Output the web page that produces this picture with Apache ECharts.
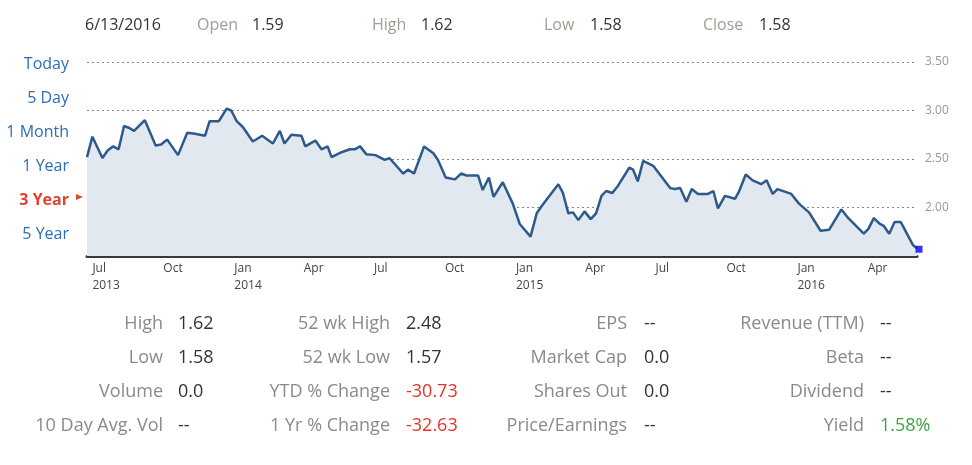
<!DOCTYPE html>
<html>
<head>
<meta charset="utf-8">
<title>3 Year</title>
<script src="https://cdn.jsdelivr.net/npm/echarts@6.0.0/dist/echarts.min.js"></script>
<style>
  html, body { margin: 0; padding: 0; background: #fff; }
  #main { width: 972px; height: 465px; }
</style>
</head>
<body>
<div id="main"></div>
<script>
// 数据
const dates = ['2013-06-24','2013-07-01','2013-07-14','2013-07-21','2013-07-28','2013-08-04','2013-08-11','2013-08-18','2013-08-24','2013-09-07',
  '2013-09-21','2013-09-28','2013-10-06','2013-10-20','2013-11-01','2013-11-11','2013-11-24','2013-11-30','2013-12-12','2013-12-22',
  '2013-12-28','2014-01-04','2014-01-12','2014-01-25','2014-02-06','2014-02-20','2014-03-01','2014-03-07','2014-03-16','2014-03-29',
  '2014-04-03','2014-04-16','2014-04-24','2014-05-02','2014-05-07','2014-05-20','2014-05-31','2014-06-06','2014-06-13','2014-06-21',
  '2014-07-03','2014-07-15','2014-07-21','2014-08-08','2014-08-14','2014-08-22','2014-09-04','2014-09-16','2014-09-22','2014-10-02',
  '2014-10-14','2014-10-22','2014-10-29','2014-11-13','2014-11-19','2014-11-27','2014-12-03','2014-12-15','2014-12-28','2015-01-06',
  '2015-01-20','2015-01-28','2015-02-03','2015-02-25','2015-03-03','2015-03-10','2015-03-16','2015-03-23','2015-03-31','2015-04-08',
  '2015-04-15','2015-04-22','2015-04-28','2015-05-06','2015-05-13','2015-05-28','2015-06-02','2015-06-08','2015-06-15','2015-06-28',
  '2015-07-20','2015-07-26','2015-08-02','2015-08-10','2015-08-17','2015-08-25','2015-09-07','2015-09-14','2015-09-20','2015-09-29',
  '2015-10-12','2015-10-17','2015-10-26','2015-11-04','2015-11-15','2015-11-22','2015-11-30','2015-12-06','2015-12-24','2016-01-03',
  '2016-01-16','2016-01-31','2016-02-11','2016-02-27','2016-03-07','2016-03-17','2016-03-27','2016-04-02','2016-04-09','2016-04-17',
  '2016-04-22','2016-04-29','2016-05-06','2016-05-14','2016-05-30','2016-06-04']
const prices = [2.52,2.73,2.51,2.59,2.63,2.60,2.84,2.82,2.79,2.90,
  2.64,2.65,2.70,2.54,2.77,2.76,2.74,2.89,2.89,3.02,
  3.00,2.89,2.83,2.68,2.74,2.66,2.79,2.66,2.75,2.74,
  2.63,2.69,2.60,2.63,2.52,2.57,2.60,2.60,2.63,2.55,
  2.54,2.49,2.51,2.35,2.39,2.35,2.63,2.56,2.49,2.31,
  2.29,2.35,2.33,2.33,2.18,2.31,2.11,2.26,2.04,1.83,
  1.70,1.94,2.01,2.24,2.15,1.94,1.95,1.87,1.96,1.88,
  1.94,2.12,2.17,2.15,2.22,2.41,2.39,2.27,2.48,2.43,
  2.20,2.19,2.20,2.06,2.19,2.14,2.14,2.17,1.99,2.12,
  2.09,2.16,2.34,2.28,2.24,2.28,2.14,2.19,2.14,2.04,
  1.95,1.76,1.77,1.98,1.89,1.81,1.73,1.78,1.89,1.83,
  1.81,1.73,1.85,1.85,1.61,1.58]

const xMin = '2013-06-24'
const xMax = '2016-06-04'
const tickDates = ['2013-07-01','2013-10-01','2014-01-01','2014-04-01','2014-07-01','2014-10-01',
  '2015-01-01','2015-04-01','2015-07-01','2015-10-01','2016-01-01','2016-04-01']
const monthNames = ['Jan','Feb','Mar','Apr','May','Jun','Jul','Aug','Sep','Oct','Nov','Dec']

// 顶部报价
const quoteDate = '6/13/2016'
const quoteLabels = ['Open', 'High', 'Low', 'Close']
const quoteValues = ['1.59', '1.62', '1.58', '1.58']

// 左侧时间范围
const ranges = ['Today', '5 Day', '1 Month', '1 Year', '3 Year', '5 Year']
const activeRange = '3 Year'

// 底部统计
const statLabels = [
  ['High', 'Low', 'Volume', '10 Day Avg. Vol'],
  ['52 wk High', '52 wk Low', 'YTD % Change', '1 Yr % Change'],
  ['EPS', 'Market Cap', 'Shares Out', 'Price/Earnings'],
  ['Revenue (TTM)', 'Beta', 'Dividend', 'Yield']
]
const statValues = [
  ['1.62', '1.58', '0.0', '--'],
  ['2.48', '1.57', '-30.73', '-32.63'],
  ['--', '0.0', '0.0', '--'],
  ['--', '--', '--', '1.58%']
]

const FONT = '"Open Sans", sans-serif'

function toTime(s) {
  const p = s.split('-').map(Number)
  return Date.UTC(p[0], p[1] - 1, p[2])
}

const tickTimes = tickDates.map(toTime)
const seriesData = dates.map((d, i) => [toTime(d), prices[i]])
const last = seriesData[seriesData.length - 1]

// graphic 文本
const graphics = []
graphics.push({ type: 'text', style: { text: quoteDate, x: 85, y: 25, fill: '#333', font: '16px ' + FONT, textVerticalAlign: 'middle' } })
const quoteLabelX = [197, 372, 544, 703]
const quoteValueX = [252, 421, 590, 759]
quoteLabels.forEach((t, i) => {
  graphics.push({ type: 'text', style: { text: t, x: quoteLabelX[i], y: 25, fill: '#a29c93', font: '16px ' + FONT, textVerticalAlign: 'middle' } })
  graphics.push({ type: 'text', style: { text: quoteValues[i], x: quoteValueX[i], y: 25, fill: '#333', font: '16px ' + FONT, textVerticalAlign: 'middle' } })
})

ranges.forEach((t, i) => {
  const on = t === activeRange
  graphics.push({ type: 'text', style: {
    text: t, x: 69, y: 64 + i * 34, textAlign: 'right', textVerticalAlign: 'middle',
    fill: on ? '#e2432f' : '#2d6fb4', font: (on ? 'bold ' : '') + '16px ' + FONT
  } })
  if (on) {
    const cy = 64 + i * 34 - 3
    graphics.push({ type: 'polygon', shape: { points: [[76, cy - 3], [83, cy], [76, cy + 3]] }, style: { fill: '#e2432f' } })
  }
})

const colLabelRight = [163, 390, 627, 864]
const colValueLeft = [178, 406, 644, 880]
statLabels.forEach((col, c) => {
  col.forEach((t, r) => {
    const y = 324 + r * 34
    const v = statValues[c][r]
    let color = '#333'
    if (v.charAt(0) === '-' && v.length > 2) color = '#e5322b'
    if (t === 'Yield') color = '#3ba541'
    graphics.push({ type: 'text', style: { text: t, x: colLabelRight[c], y: y, textAlign: 'right', textVerticalAlign: 'middle', fill: '#8a8a8a', font: '18px ' + FONT } })
    graphics.push({ type: 'text', style: { text: v, x: colValueLeft[c], y: y, textVerticalAlign: 'middle', fill: color, font: '18px ' + FONT } })
  })
})

var myChart = echarts.init(document.getElementById('main'))

var option = {
  animation: false,
  grid: { left: 87, right: 55, top: 62, bottom: 209 },
  xAxis: {
    type: 'value',
    min: toTime(xMin),
    max: toTime(xMax),
    axisLine: { show: true, lineStyle: { color: '#3a3a3a', width: 3 } },
    axisTick: { show: false },
    splitLine: { show: false },
    axisLabel: {
      customValues: tickTimes,
      align: 'left',
      margin: 4,
      color: '#444',
      fontSize: 12,
      fontFamily: FONT,
      lineHeight: 17,
      formatter: function (val) {
        const d = new Date(val)
        const m = d.getUTCMonth()
        let s = monthNames[m]
        if (m === 0 || val === tickTimes[0]) s += '\n' + d.getUTCFullYear()
        return s
      }
    }
  },
  yAxis: {
    type: 'value',
    position: 'right',
    min: 1.5,
    max: 3.5,
    interval: 0.5,
    axisLine: { show: false },
    axisTick: { show: false },
    splitLine: { show: true, lineStyle: { color: '#888', type: [2, 3], width: 1 } },
    axisLabel: {
      margin: 8,
      color: '#999',
      fontSize: 12,
      fontFamily: FONT,
      formatter: v => (v <= 1.5 ? '' : v.toFixed(2))
    }
  },
  graphic: graphics,
  series: [
    {
      type: 'line',
      data: seriesData,
      symbol: 'none',
      lineStyle: { color: '#2e5a8b', width: 2.5 },
      areaStyle: { color: '#e1e8ef', opacity: 1 },
      z: 2
    },
    {
      type: 'scatter',
      data: [last],
      symbol: 'rect',
      symbolSize: 7,
      symbolOffset: [2, 1],
      itemStyle: { color: '#0000ff' },
      z: 5
    }
  ]
}

myChart.setOption(option)
</script>
</body>
</html>
